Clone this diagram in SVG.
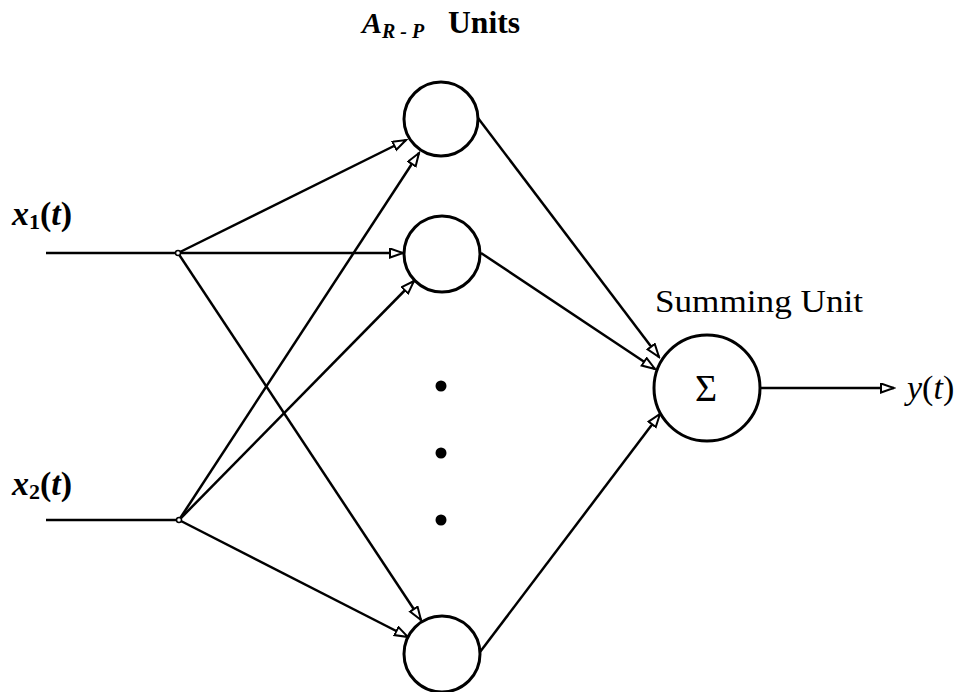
<svg xmlns="http://www.w3.org/2000/svg" width="960" height="692" viewBox="0 0 960 692">
<style>
.ln{stroke:#000;stroke-width:2.5;fill:none}
.ar{stroke:#000;stroke-width:2.5;fill:none;marker-end:url(#arr)}
.nd{stroke:#000;stroke-width:3;fill:#fff}
.t{font-family:"Liberation Serif",serif;fill:#000}
.m{font-family:"Liberation Serif",serif;font-style:italic;font-weight:bold;fill:#000}
.y{font-family:"Liberation Serif",serif;font-style:italic;fill:#000}
</style>
<defs>
<marker id="arr" markerUnits="userSpaceOnUse" markerWidth="16" markerHeight="12" refX="14" refY="5.5" orient="auto">
<path d="M1,1 L14,5.5 L1,10 z" fill="#fff" stroke="#000" stroke-width="2"/>
</marker>
</defs>
<rect width="960" height="692" fill="#fff"/>
<g id="labels">
<text class="m" x="362" y="33" font-size="30">A<tspan font-size="20" dy="5">R - P</tspan></text>
<text class="t" x="448" y="33" font-size="31" font-weight="bold" textLength="72" lengthAdjust="spacingAndGlyphs">Units</text>
<text class="t" x="655" y="312" font-size="31" textLength="208" lengthAdjust="spacingAndGlyphs">Summing Unit</text>
<text class="m" x="12" y="225" font-size="34">x<tspan font-size="22" dy="4" font-style="normal">1</tspan><tspan dy="-4" font-style="normal">(</tspan>t<tspan font-style="normal">)</tspan></text>
<text class="m" x="12" y="495" font-size="34">x<tspan font-size="22" dy="4" font-style="normal">2</tspan><tspan dy="-4" font-style="normal">(</tspan>t<tspan font-style="normal">)</tspan></text>
<text class="y" x="907" y="399" font-size="34">y<tspan font-style="normal">(</tspan>t<tspan font-style="normal">)</tspan></text>
</g>
<g id="connectors">
<line class="ln" x1="46" y1="253" x2="178" y2="253"/>
<line class="ln" x1="46" y1="520" x2="179" y2="520"/>
<line class="ar" x1="178" y1="253" x2="406" y2="140"/>
<line class="ar" x1="178" y1="253" x2="403" y2="253"/>
<line class="ar" x1="178" y1="253" x2="421" y2="620"/>
<line class="ar" x1="179" y1="520" x2="419" y2="153"/>
<line class="ar" x1="179" y1="520" x2="414" y2="281"/>
<line class="ar" x1="179" y1="520" x2="408" y2="637"/>
<line class="ar" x1="478" y1="118" x2="659" y2="357"/>
<line class="ar" x1="481" y1="253" x2="655" y2="369"/>
<line class="ar" x1="480" y1="652" x2="660" y2="414"/>
<line class="ar" x1="760" y1="388" x2="894" y2="388"/>
<circle cx="178" cy="253" r="2.5" fill="#fff" stroke="#000" stroke-width="1.5"/>
<circle cx="179" cy="520" r="2.5" fill="#fff" stroke="#000" stroke-width="1.5"/>
</g>
<g id="unit1"><circle class="nd" cx="441" cy="119" r="37"/></g>
<g id="unit2"><circle class="nd" cx="442" cy="254" r="38"/></g>
<g id="unit3"><circle class="nd" cx="442" cy="654" r="38"/></g>
<g id="ellipsis">
<circle cx="441" cy="386" r="5.5" fill="#000"/>
<circle cx="441" cy="453" r="5.5" fill="#000"/>
<circle cx="441" cy="520" r="5.5" fill="#000"/>
</g>
<g id="summing">
<circle class="nd" cx="707" cy="388" r="53"/>
<text class="t" x="706" y="401" font-size="38" text-anchor="middle">Σ</text>
</g>
</svg>
